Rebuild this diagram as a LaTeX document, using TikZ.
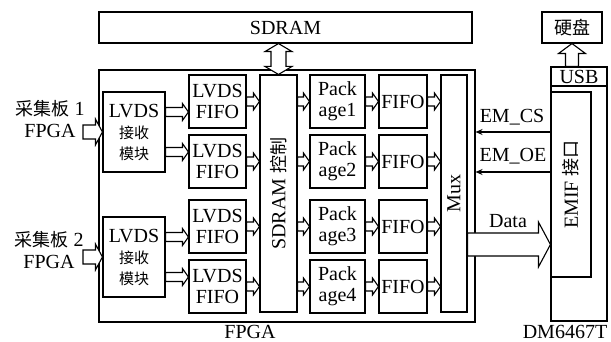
\documentclass[tikz,border=0pt]{standalone}
\usepackage{fontspec}
\setmainfont{Liberation Serif}
\newfontfamily\cjk{Noto Sans CJK SC}
\usetikzlibrary{arrows.meta,calc}

\newcommand{\zh}[1]{{\cjk\fontsize{15}{21}\selectfont #1}}
\newcommand{\zhbig}[1]{{\cjk\fontsize{18}{21}\selectfont #1}}

% hollow arrows: start, end, shaft half, head half, head length
\newcommand{\harr}[5]{\draw[line width=1.1pt, fill=white] let \p1=(#1), \p2=(#2) in
    (\x1,\y1+#3) -- (\x2-#5,\y1+#3) -- (\x2-#5,\y1+#4) -- (\x2,\y1)
    -- (\x2-#5,\y1-#4) -- (\x2-#5,\y1-#3) -- (\x1,\y1-#3) -- cycle;}
\newcommand{\sarr}[2]{\harr{#1}{#2}{4.5pt}{8.5pt}{6pt}}
\newcommand{\uarr}[2]{\draw[line width=1.1pt, fill=white] let \p1=(#1), \p2=(#2) in
    (\x1-6.5pt,\y1) -- (\x1-6.5pt,\y2-10pt) -- (\x1-13.5pt,\y2-10pt) -- (\x1,\y2)
    -- (\x1+13.5pt,\y2-10pt) -- (\x1+6.5pt,\y2-10pt) -- (\x1+6.5pt,\y1) -- cycle;}
\newcommand{\dvarr}[2]{\draw[line width=1.1pt, fill=white] let \p1=(#1), \p2=(#2) in
    (\x1,\y1) -- (\x1-13.5pt,\y1+8pt) -- (\x1-7.5pt,\y1+8pt) -- (\x1-7.5pt,\y2-8pt)
    -- (\x1-13.5pt,\y2-8pt) -- (\x1,\y2) -- (\x1+13.5pt,\y2-8pt) -- (\x1+7.5pt,\y2-8pt)
    -- (\x1+7.5pt,\y1+8pt) -- (\x1+13.5pt,\y1+8pt) -- cycle;}

\begin{document}
\begin{tikzpicture}[x=1pt, y=-1pt,
    font=\fontsize{20}{21}\selectfont,
    blk/.style={draw, line width=1.1pt, inner sep=0pt, align=center},
    fifobox/.style={blk, minimum width=57pt, minimum height=53pt},
    packbox/.style={blk, minimum width=55pt, minimum height=53pt},
    outbox/.style={blk, minimum width=48pt, minimum height=53pt},
    sig/.style={line width=1.1pt, -{Stealth[length=7pt,width=6pt]}}]
    \useasboundingbox (0,0) rectangle (611,342);

    % Frames
    \node[blk, minimum width=376pt, minimum height=252pt] (fpga) at (287,196) {};
    \node[blk, minimum width=56pt, minimum height=254pt] (dm) at (579,194) {};
    \node[inner sep=0pt] (fpgalbl) at (250,332) {FPGA};
    \node[inner sep=0pt] (dmlbl) at (565,332) {DM6467T};

    % SDRAM, disk, DM6467T parts
    \node[blk, minimum width=373pt, minimum height=31pt] (sdram) at (285.5,27.5) {SDRAM};
    \node[blk, minimum width=60pt, minimum height=31pt] (disk) at (572,27.5) {\zhbig{硬盘}};
    \node[blk, minimum width=56pt, minimum height=19pt] (usb) at (579,76.5) {USB};
    \node[blk, minimum width=40pt, minimum height=185pt] (emif) at (571,184.5) {};
    \node[rotate=90] (emiftxt) at (emif) {EMIF \zhbig{接口}};

    % Inputs
    \node[align=center, font=\fontsize{20}{22}\selectfont] (in1) at (50,119) {\zhbig{采集板} 1\\FPGA};
    \node[align=center, font=\fontsize{20}{22}\selectfont] (in2) at (49,250) {\zhbig{采集板} 2\\FPGA};
    \coordinate (src1) at (83,132);
    \coordinate (src2) at (83,257);

    % Receivers
    \node[blk, minimum width=62pt, minimum height=80pt] (recv1) at (134,132) {LVDS\\\zh{接收}\\\zh{模块}};
    \node[blk, minimum width=62pt, minimum height=80pt] (recv2) at (134,257) {LVDS\\\zh{接收}\\\zh{模块}};

    % LVDS FIFOs
    \node[fifobox] (lf1) at (217.5,101.5) {LVDS\\FIFO};
    \node[fifobox] (lf2) at (217.5,161.5) {LVDS\\FIFO};
    \node[fifobox] (lf3) at (217.5,226.5) {LVDS\\FIFO};
    \node[fifobox] (lf4) at (217.5,286.5) {LVDS\\FIFO};

    % SDRAM control
    \node[blk, minimum width=37pt, minimum height=237pt] (ctrl) at (278.5,193.5) {};
    \node[rotate=90] (ctrltxt) at (ctrl) {SDRAM \zhbig{控制}};

    % Packages
    \node[packbox] (pk1) at (337.5,101.5) {Pack\\age1};
    \node[packbox] (pk2) at (337.5,161.5) {Pack\\age2};
    \node[packbox] (pk3) at (337.5,226.5) {Pack\\age3};
    \node[packbox] (pk4) at (337.5,286.5) {Pack\\age4};

    % Output FIFOs
    \node[outbox] (ff1) at (403,101.5) {FIFO};
    \node[outbox] (ff2) at (403,161.5) {FIFO};
    \node[outbox] (ff3) at (403,226.5) {FIFO};
    \node[outbox] (ff4) at (403,286.5) {FIFO};

    % Mux
    \node[blk, minimum width=26pt, minimum height=237pt] (mux) at (454,193.5) {};
    \node[rotate=90] (muxtxt) at (mux) {Mux};

    % Big arrows
    \harr{src1}{recv1.west}{7pt}{13pt}{7pt}
    \harr{src2}{recv2.west}{7pt}{13pt}{7pt}
    \dvarr{ctrl.north}{ctrl.north |- sdram.south}
    \uarr{disk.south |- usb.north}{disk.south}
    \harr{[yshift=-51pt]mux.east}{emif.west}{11.5pt}{22.5pt}{12pt}

    % Receiver to LVDS FIFO
    \sarr{[yshift=20pt]recv1.east}{lf1.west}
    \sarr{[yshift=-20pt]recv1.east}{lf2.west}
    \sarr{[yshift=20pt]recv2.east}{lf3.west}
    \sarr{[yshift=-20pt]recv2.east}{lf4.west}

    % LVDS FIFO to control
    \sarr{lf1.east}{ctrl.west}
    \sarr{lf2.east}{ctrl.west}
    \sarr{lf3.east}{ctrl.west}
    \sarr{lf4.east}{ctrl.west}

    % Control to packages
    \sarr{ctrl.east |- pk1.west}{pk1.west}
    \sarr{ctrl.east |- pk2.west}{pk2.west}
    \sarr{ctrl.east |- pk3.west}{pk3.west}
    \sarr{ctrl.east |- pk4.west}{pk4.west}

    % Packages to FIFO
    \sarr{pk1.east}{ff1.west}
    \sarr{pk2.east}{ff2.west}
    \sarr{pk3.east}{ff3.west}
    \sarr{pk4.east}{ff4.west}

    % FIFO to mux
    \sarr{ff1.east}{mux.west}
    \sarr{ff2.east}{mux.west}
    \sarr{ff3.east}{mux.west}
    \sarr{ff4.east}{mux.west}

    % EMIF signals
    \coordinate (cs) at ([yshift=52.5pt]emif.west);
    \coordinate (oe) at ([yshift=12.5pt]emif.west);
    \draw[sig] (cs) -- (cs -| fpga.east);
    \draw[sig] (oe) -- (oe -| fpga.east);
    \node (cslbl) at (512,117) {EM\_CS};
    \node (oelbl) at (513,156) {EM\_OE};
    \node (datalbl) at (508,221) {Data};
\end{tikzpicture}
\end{document}
